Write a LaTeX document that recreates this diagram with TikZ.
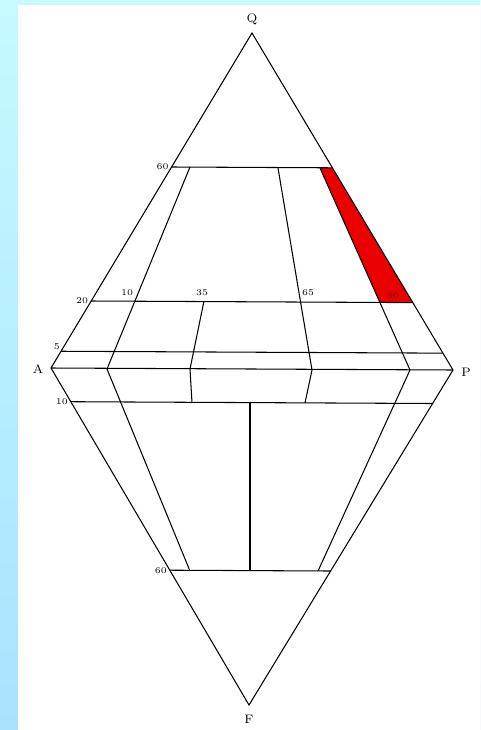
\documentclass[tikz,border=0pt]{standalone}
\usetikzlibrary{calc}
\definecolor{bgtop}{RGB}{198,250,255}
\definecolor{bgbot}{RGB}{168,226,255}
\definecolor{fieldred}{RGB}{235,0,0}

\begin{document}
\begin{tikzpicture}[x=0.02cm, y=-0.02cm,
 edge/.style={draw, line width=0.6pt, line join=miter},
 num/.style={inner sep=0.5pt, font=\tiny},
 apex/.style={inner sep=1pt, font=\scriptsize}]
% frame
\shade[top color=bgtop, bottom color=bgbot] (0,0) rectangle (480,730);
\fill[white] (18,5) rectangle (480,730);
\useasboundingbox (0,0) rectangle (480,730);
% corners of the double triangle
\coordinate (Q) at (252,33);
\coordinate (A) at (51,368);
\coordinate (P) at (453,370);
\coordinate (F) at (249,705);
% level lines
\coordinate (q60l) at ($(A)!0.6!(Q)$);  \coordinate (q60r) at ($(P)!0.6!(Q)$);
\coordinate (q20l) at ($(A)!0.2!(Q)$);  \coordinate (q20r) at ($(P)!0.2!(Q)$);
\coordinate (q5l)  at ($(A)!0.05!(Q)$); \coordinate (q5r)  at ($(P)!0.05!(Q)$);
\coordinate (f10l) at ($(A)!0.1!(F)$);  \coordinate (f10r) at ($(P)!0.1!(F)$);
\coordinate (f60l) at ($(A)!0.6!(F)$);  \coordinate (f60r) at ($(P)!0.6!(F)$);
% field boundaries
\coordinate (a1) at (190,167); \coordinate (a2) at (107,369); \coordinate (a3) at (190,571);
\coordinate (b1) at (204,301); \coordinate (b2) at (190,369); \coordinate (b3) at (192,403);
\coordinate (c1) at (278,168); \coordinate (c2) at (312,370); \coordinate (c3) at (305,403);
\coordinate (d1) at (320,168); \coordinate (d2) at (410,370); \coordinate (d3) at (318,571);
\coordinate (m1) at (250,403); \coordinate (m2) at (250,571);
\coordinate (d20) at ($(d1)!0.663!(d2)$);
% highlighted field
\fill[fieldred] (d1) -- (q60r) -- (q20r) -- (d20) -- cycle;
% outline
\draw[edge] (Q) -- (A) -- (F) -- (P) -- cycle;
\draw[edge] (A) -- (P);
\draw[edge] (q60l) -- (q60r) (q20l) -- (q20r) (q5l) -- (q5r);
\draw[edge] (f10l) -- (f10r) (f60l) -- (f60r);
\draw[edge] (a1) -- (a2) -- (a3);
\draw[edge] (b1) -- (b2) -- (b3);
\draw[edge] (c1) -- (c2) -- (c3);
\draw[edge] (d1) -- (d2) -- (d3);
\draw[edge] (m1) -- (m2);
% labels
\node[apex] (lq) at (252,19) {Q};
\node[apex] (la) at (38,369) {A};
\node[apex] (lp) at (466,372) {P};
\node[apex] (lf) at (249,719) {F};
\node[num, left=1pt] (n60q) at (q60l) {60};
\node[num, left=1pt] (n20q) at (q20l) {20};
\node[num, left=0pt, anchor=south east] (n5q) at (q5l) {5};
\node[num, left=1pt] (n10f) at (f10l) {10};
\node[num, left=1pt] (n60f) at (f60l) {60};
\node[num] (n10) at (127,293) {10};
\node[num] (n35) at (202,293) {35};
\node[num] (n65) at (308,293) {65};
\node[num, text=red!50!black] (n90) at (393,296) {90};
\end{tikzpicture}
\end{document}
